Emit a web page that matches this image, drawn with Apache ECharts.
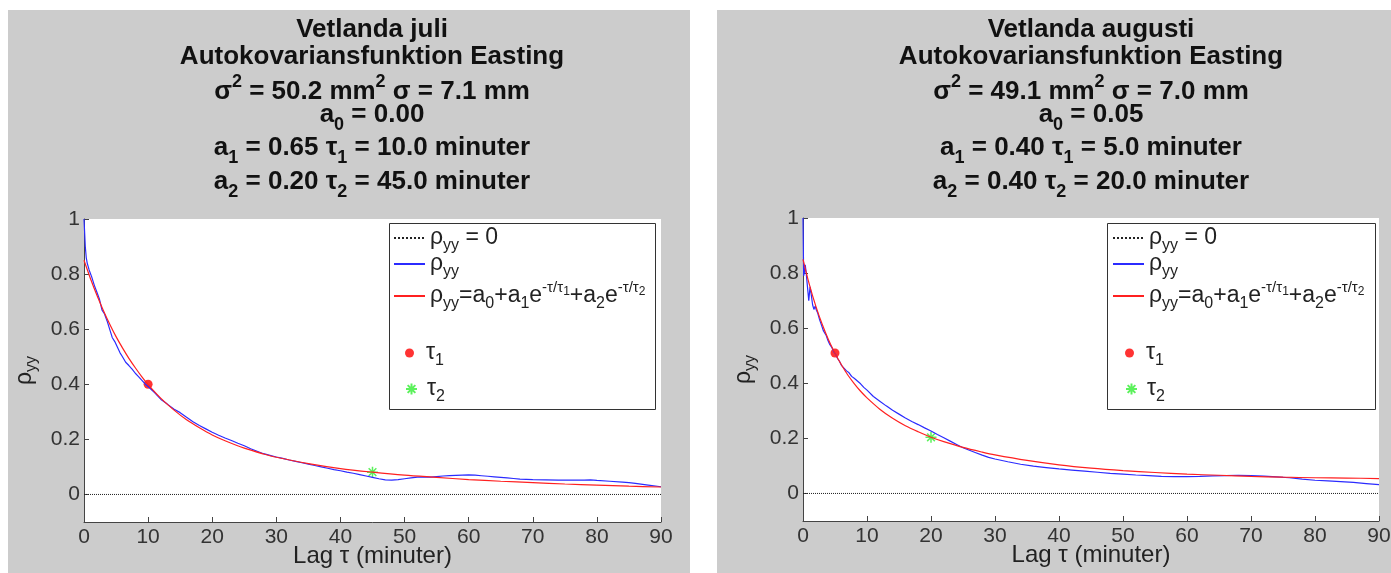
<!DOCTYPE html>
<html>
<head>
<meta charset="utf-8">
<script src="https://cdn.jsdelivr.net/npm/echarts@6/dist/echarts.min.js"></script>
<style>
  html, body { margin: 0; padding: 0; background: #fff; }
  #main { width: 1391px; height: 573px; }
</style>
</head>
<body>
<div id="main"></div>
<script>
// axis ticks
var xTicks = [0, 10, 20, 30, 40, 50, 60, 70, 80, 90];
var yTicks = [0, 0.2, 0.4, 0.6, 0.8, 1];
var yTickLabels = ['0', '0.2', '0.4', '0.6', '0.8', '1'];

// rho_yy = 0 reference line
var zeroLag = [0, 90];
var zeroRho = [0, 0];

// ---- Vetlanda juli (left) ----
var lagBlueL = [0, 0.1, 0.2, 0.35, 0.5, 0.8, 1.2, 1.6, 2.0, 2.4, 2.8, 3.2, 3.6, 4.0, 4.4, 4.8, 5.2, 5.6, 6.0, 6.5,
  7.0, 7.5, 8.0, 8.5, 9.0, 9.5, 10, 11, 12, 13, 14, 15, 16, 17, 18, 19, 20, 21, 22, 23, 24, 25, 26, 27, 28, 29,
  30, 31, 32, 33, 34, 35, 36, 37, 38, 39, 40, 41, 42, 43, 44, 45, 46, 47, 48, 49, 50, 51, 52, 53, 54, 55, 56, 57,
  58, 59, 60, 61, 62, 63, 64, 65, 66, 67, 68, 69, 70, 72, 74, 76, 78, 79, 80, 82, 84, 85, 86, 88, 90];
var rhoBlueL = [1.00, 0.95, 0.90, 0.86, 0.84, 0.815, 0.79, 0.76, 0.735, 0.71, 0.67, 0.655, 0.63, 0.60, 0.57, 0.555,
  0.535, 0.515, 0.50, 0.48, 0.468, 0.455, 0.44, 0.428, 0.415, 0.402, 0.392, 0.37, 0.345, 0.328, 0.31, 0.297, 0.28,
  0.264, 0.25, 0.238, 0.226, 0.215, 0.205, 0.196, 0.186, 0.177, 0.166, 0.157, 0.148, 0.142, 0.136, 0.131, 0.125,
  0.12, 0.115, 0.11, 0.105, 0.10, 0.095, 0.09, 0.086, 0.081, 0.077, 0.072, 0.067, 0.062, 0.057, 0.053, 0.052, 0.054,
  0.057, 0.06, 0.063, 0.064, 0.063, 0.065, 0.067, 0.068, 0.069, 0.07, 0.071, 0.07, 0.068, 0.066, 0.064, 0.062,
  0.06, 0.058, 0.056, 0.055, 0.054, 0.053, 0.052, 0.052, 0.052, 0.053, 0.051, 0.048, 0.045, 0.043, 0.04, 0.034, 0.028];
var lagRedL = [0, 1, 2, 3, 4, 5, 6, 7, 8, 9, 10, 12, 14, 16, 18, 20, 22, 25, 28, 30, 35, 40, 45, 50, 55, 60, 65, 70, 75, 80, 85, 90];
var rhoRedL = [0.85, 0.784, 0.724, 0.669, 0.619, 0.573, 0.532, 0.494, 0.460, 0.428, 0.399, 0.349, 0.307, 0.271,
  0.242, 0.216, 0.195, 0.168, 0.147, 0.135, 0.112, 0.094, 0.081, 0.070, 0.062, 0.054, 0.048, 0.043, 0.038, 0.034, 0.030, 0.027];
var tau1L = [10, 0.40];
var tau2L = [45, 0.081];

// ---- Vetlanda augusti (right) ----
var lagBlueR = [0, 0.05, 0.1, 0.2, 0.35, 0.5, 0.7, 0.9, 1.1, 1.3, 1.5, 1.7, 1.9, 2.1, 2.3, 2.6, 2.9, 3.2, 3.4, 3.6,
  3.9, 4.2, 4.5, 4.8, 5.1, 5.4, 5.7, 6.0, 6.4, 6.8, 7.2, 7.6, 8.0, 8.5, 9.0, 9.5, 10, 11, 12, 13, 14, 15, 16, 17,
  18, 19, 20, 21, 22, 23, 24, 25, 26, 27, 28, 29, 30, 32, 34, 36, 38, 40, 42, 44, 46, 48, 50, 52, 54, 56, 58, 60,
  62, 64, 66, 68, 70, 72, 74, 76, 78, 80, 82, 84, 86, 88, 90];
var rhoBlueR = [1.00, 0.90, 0.79, 0.80, 0.83, 0.80, 0.75, 0.70, 0.75, 0.72, 0.685, 0.668, 0.68, 0.665, 0.655, 0.63,
  0.61, 0.59, 0.595, 0.575, 0.555, 0.54, 0.53, 0.515, 0.505, 0.49, 0.48, 0.465, 0.455, 0.445, 0.438, 0.425, 0.418,
  0.408, 0.398, 0.385, 0.375, 0.352, 0.335, 0.318, 0.302, 0.288, 0.274, 0.261, 0.25, 0.238, 0.227, 0.214, 0.202,
  0.19, 0.178, 0.166, 0.157, 0.148, 0.139, 0.131, 0.125, 0.115, 0.106, 0.099, 0.094, 0.089, 0.085, 0.081, 0.077,
  0.073, 0.07, 0.067, 0.065, 0.062, 0.061, 0.061, 0.062, 0.064, 0.065, 0.066, 0.065, 0.063, 0.06, 0.057, 0.052,
  0.048, 0.046, 0.043, 0.04, 0.036, 0.032];
var lagRedR = [0, 1, 2, 3, 4, 5, 6, 7, 8, 9, 10, 12, 14, 16, 18, 20, 22, 25, 28, 30, 35, 40, 45, 50, 55, 60, 65, 70, 75, 80, 85, 90];
var rhoRedR = [0.85, 0.758, 0.680, 0.614, 0.557, 0.509, 0.467, 0.430, 0.399, 0.371, 0.347, 0.306, 0.273, 0.246,
  0.224, 0.204, 0.188, 0.167, 0.150, 0.140, 0.120, 0.104, 0.092, 0.083, 0.076, 0.070, 0.066, 0.062, 0.059, 0.057, 0.056, 0.054];
var tau1R = [5, 0.51];
var tau2R = [20, 0.204];

// titles (rich text: sub / sup)
var titleL = ['Vetlanda juli', 'Autokovariansfunktion Easting', 'σ{sup|2} = 50.2 mm{sup|2} σ = 7.1 mm',
  'a{sub|0} = 0.00', 'a{sub|1} = 0.65 τ{sub|1} = 10.0 minuter', 'a{sub|2} = 0.20 τ{sub|2} = 45.0 minuter'];
var titleR = ['Vetlanda augusti', 'Autokovariansfunktion Easting', 'σ{sup|2} = 49.1 mm{sup|2} σ = 7.0 mm',
  'a{sub|0} = 0.05', 'a{sub|1} = 0.40 τ{sub|1} = 5.0 minuter', 'a{sub|2} = 0.40 τ{sub|2} = 20.0 minuter'];

var legendText = {
  zero: 'ρ{sub|yy} = 0',
  blue: 'ρ{sub|yy}',
  red: 'ρ{sub|yy}=a{sub|0}+a{sub|1}e{sup|-τ/τ}{ss|1}+a{sub|2}e{sup|-τ/τ}{ss|2}',
  tau1: 'τ{sub|1}',
  tau2: 'τ{sub|2}'
};

var FONT = 'Liberation Sans, Arial, Helvetica, sans-serif';
var STAR = 'path://M0,5L10,5M5,0L5,10M1.5,1.5L8.5,8.5M8.5,1.5L1.5,8.5';

function pairs(xs, ys) {
  return xs.map(function (x, i) { return [x, ys[i]]; });
}

var myChart = echarts.init(document.getElementById('main'));

// title lines
var titleTops = [8, 35, 70, 93, 126, 160];
var titles = [];
function addTitles(lines, cx) {
  lines.forEach(function (t, i) {
    titles.push({
      text: t, left: cx, top: titleTops[i], textAlign: 'center', padding: 0,
      textStyle: {
        fontFamily: FONT, fontSize: 26, fontWeight: 'bold', color: '#111', lineHeight: 44,
        rich: {
          sub: { fontFamily: FONT, fontSize: 18, fontWeight: 'bold', color: '#111', verticalAlign: 'bottom', padding: [0, 0, 3, 0] },
          sup: { fontFamily: FONT, fontSize: 18, fontWeight: 'bold', color: '#111', verticalAlign: 'top', padding: [3, 0, 0, 0] }
        }
      }
    });
  });
}
addTitles(titleL, 372);
addTitles(titleR, 1091);

// legends, one per row
var legendRich = {
  sub: { fontFamily: FONT, fontSize: 16, color: '#222', verticalAlign: 'bottom' },
  sup: { fontFamily: FONT, fontSize: 15, color: '#222', verticalAlign: 'top' },
  ss: { fontFamily: FONT, fontSize: 12, color: '#222', verticalAlign: 'top', padding: [6, 0, 0, 0] }
};
var rowCenters = [238, 264, 296, 353, 389];
var legends = [];
function addLegends(suffix, lineLeft, dotLeft) {
  ['zero', 'blue', 'red', 'tau1', 'tau2'].forEach(function (k, i) {
    var isMark = (k === 'tau1' || k === 'tau2');
    var lg = {
      data: [k + suffix],
      left: isMark ? dotLeft : lineLeft,
      top: rowCenters[i] - 16,
      padding: 0,
      itemWidth: isMark ? (k === 'tau1' ? 9 : 11) : 31,
      itemHeight: isMark ? (k === 'tau1' ? 9 : 11) : 14,
      selectedMode: false,
      formatter: function () { return legendText[k]; },
      textStyle: {
        fontFamily: FONT, fontSize: 23, color: '#222', lineHeight: 32,
        padding: isMark ? [0, 0, 0, k === 'tau1' ? 7 : 5] : 0,
        rich: legendRich
      }
    };
    if (!isMark) {
      // line sample only, hide the marker in the middle
      lg.itemStyle = { opacity: 0 };
    }
    legends.push(lg);
  });
}
addLegends('L', 393, 405);
addLegends('R', 1112, 1125);

function xAxisOpt(gi) {
  return {
    type: 'value', gridIndex: gi, min: 0, max: 90, interval: 10,
    name: 'Lag τ (minuter)', nameLocation: 'middle', nameGap: 22, nameMoveOverlap: false,
    nameTextStyle: { fontFamily: FONT, fontSize: 24, color: '#222' },
    axisLine: { show: true, onZero: false, lineStyle: { color: '#444', width: 1 } },
    axisTick: { show: true, inside: true, length: 5, lineStyle: { color: '#444' } },
    axisLabel: { fontFamily: FONT, fontSize: 21, color: '#333', margin: 5 },
    splitLine: { show: false }
  };
}
function yAxisOpt(gi) {
  return {
    type: 'value', gridIndex: gi, min: -0.1, max: 1,
    name: 'ρ{sub|yy}', nameLocation: 'middle', nameRotate: 90, nameGap: 44, nameMoveOverlap: false,
    nameTextStyle: {
      fontFamily: FONT, fontSize: 23, color: '#222', lineHeight: 30,
      rich: { sub: { fontFamily: FONT, fontSize: 16, color: '#222', verticalAlign: 'bottom' } }
    },
    axisLine: { show: true, onZero: false, lineStyle: { color: '#444', width: 1 } },
    axisTick: { show: true, inside: true, length: 5, customValues: yTicks, lineStyle: { color: '#444' } },
    axisLabel: {
      fontFamily: FONT, fontSize: 21, color: '#333', margin: 4, customValues: yTicks,
      formatter: function (v) {
        var i = yTicks.indexOf(Math.round(v * 10) / 10);
        return i >= 0 ? yTickLabels[i] : '';
      }
    },
    splitLine: { show: false }
  };
}

function panelSeries(gi, suffix, blueLag, blueRho, redLag, redRho, t1, t2) {
  return [
    { name: 'zero' + suffix, type: 'line', xAxisIndex: gi, yAxisIndex: gi, data: pairs(zeroLag, zeroRho),
      symbol: 'none', lineStyle: { color: '#222', width: 1, type: 'dotted' }, itemStyle: { color: '#222' } },
    { name: 'blue' + suffix, type: 'line', xAxisIndex: gi, yAxisIndex: gi, data: pairs(blueLag, blueRho),
      symbol: 'none', lineStyle: { color: '#2b2bff', width: 1.2 }, itemStyle: { color: '#2b2bff' } },
    { name: 'red' + suffix, type: 'line', xAxisIndex: gi, yAxisIndex: gi, data: pairs(redLag, redRho),
      symbol: 'none', smooth: 0.3, lineStyle: { color: '#ff2020', width: 1.2 }, itemStyle: { color: '#ff2020' } },
    { name: 'tau1' + suffix, type: 'scatter', xAxisIndex: gi, yAxisIndex: gi, data: [t1],
      symbol: 'circle', symbolSize: 9, itemStyle: { color: '#ff0000' } },
    { name: 'tau2' + suffix, type: 'scatter', xAxisIndex: gi, yAxisIndex: gi, data: [t2],
      symbol: STAR, symbolSize: 11, itemStyle: { color: 'rgba(0,0,0,0)', borderColor: '#33ee33', borderWidth: 1.5 } }
  ];
}

var option = {
  animation: false,
  backgroundColor: '#fff',
  title: titles,
  legend: legends,
  graphic: [
    { type: 'rect', z: -10, shape: { x: 8, y: 10, width: 682, height: 563 }, style: { fill: '#cccccc' } },
    { type: 'rect', z: -10, shape: { x: 717, y: 10, width: 674, height: 563 }, style: { fill: '#cccccc' } },
    { type: 'rect', z: 3, shape: { x: 389.5, y: 223.5, width: 266, height: 186 }, style: { fill: '#fff', stroke: '#333', lineWidth: 1 } },
    { type: 'rect', z: 3, shape: { x: 1107.5, y: 223.5, width: 268, height: 186 }, style: { fill: '#fff', stroke: '#333', lineWidth: 1 } }
  ],
  grid: [
    { left: 84, top: 219, width: 577, height: 303, show: true, backgroundColor: '#fff', borderWidth: 0, outerBoundsMode: 'none' },
    { left: 803, top: 218, width: 576, height: 303, show: true, backgroundColor: '#fff', borderWidth: 0, outerBoundsMode: 'none' }
  ],
  xAxis: [xAxisOpt(0), xAxisOpt(1)],
  yAxis: [yAxisOpt(0), yAxisOpt(1)],
  series: panelSeries(0, 'L', lagBlueL, rhoBlueL, lagRedL, rhoRedL, tau1L, tau2L)
    .concat(panelSeries(1, 'R', lagBlueR, rhoBlueR, lagRedR, rhoRedR, tau1R, tau2R))
};

myChart.setOption(option);
</script>
</body>
</html>
